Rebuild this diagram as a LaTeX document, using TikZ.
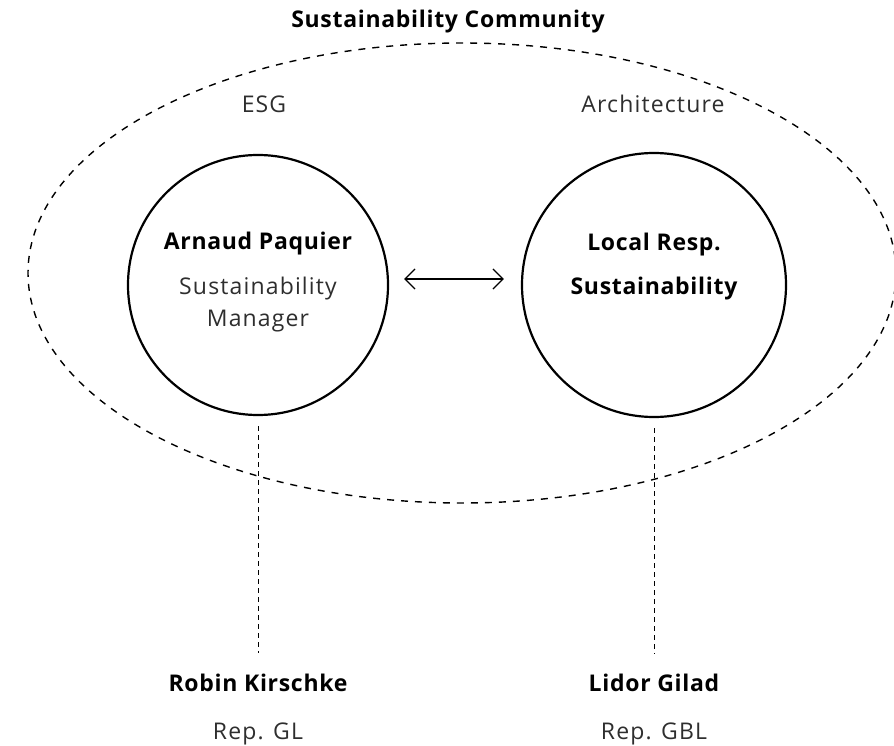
\documentclass[tikz,border=0pt]{standalone}
\usepackage{fontspec}
\setmainfont{Open Sans}
\newfontfamily\regfont[LetterSpace=5]{Open Sans}
\newfontfamily\boldfont[LetterSpace=3]{Open Sans Bold}
\usetikzlibrary{arrows.meta}
\begin{document}
\begin{tikzpicture}[x=1pt,y=-1pt,
  txt/.style={anchor=base, inner sep=0pt, font=\regfont\fontsize{23}{27}\selectfont, text=black!82},
  btxt/.style={anchor=base, inner sep=0pt, font=\boldfont\fontsize{23}{27}\selectfont, text=black},
  role/.style={circle, draw=black, line width=2.2pt, inner sep=0pt},
  comm/.style={draw=black, line width=1.4pt, dash pattern=on 7pt off 7pt},
  vline/.style={draw=black, line width=0.9pt, dash pattern=on 5pt off 4pt},
  link/.style={draw=black, line width=1.3pt, {Straight Barb[length=10pt,width=20pt]}-{Straight Barb[length=10pt,width=20pt]}}
]
\useasboundingbox (0,0) rectangle (894,746);
\draw[comm] (462,273) ellipse [x radius=434, y radius=230];
\node[btxt] (title) at (448,28) {Sustainability Community};
\node[txt] (esg) at (264,113) {ESG};
\node[txt] (arch) at (653,113) {Architecture};
\node[role, minimum size=260pt] (L) at (258,285) {};
\node[role, minimum size=264pt] (R) at (654,285) {};
\node[btxt] (ap) at (258,249) {Arnaud Paquier};
\node[txt] (sm1) at (258,294) {Sustainability};
\node[txt] (sm2) at (258,326) {Manager};
\node[btxt] (lr1) at (654,251) {Local Resp.};
\node[btxt] (lr2) at (654,294) {Sustainability};
\node[btxt] (rk) at (258,691) {Robin Kirschke};
\node[txt] (rk2) at (258,739) {Rep. GL};
\node[btxt] (lg) at (654,691) {Lidor Gilad};
\node[txt] (lg2) at (654,739) {Rep. GBL};
\draw[link, shorten <=15pt, shorten >=17pt] ([yshift=6pt]L.east) -- ([yshift=6pt]R.west);
\draw[vline, shorten <=10pt, shorten >=20pt] (L.south) -- (L.south |- rk.north);
\draw[vline, shorten <=10pt, shorten >=20pt] (R.south) -- (R.south |- lg.north);
\end{tikzpicture}
\end{document}
